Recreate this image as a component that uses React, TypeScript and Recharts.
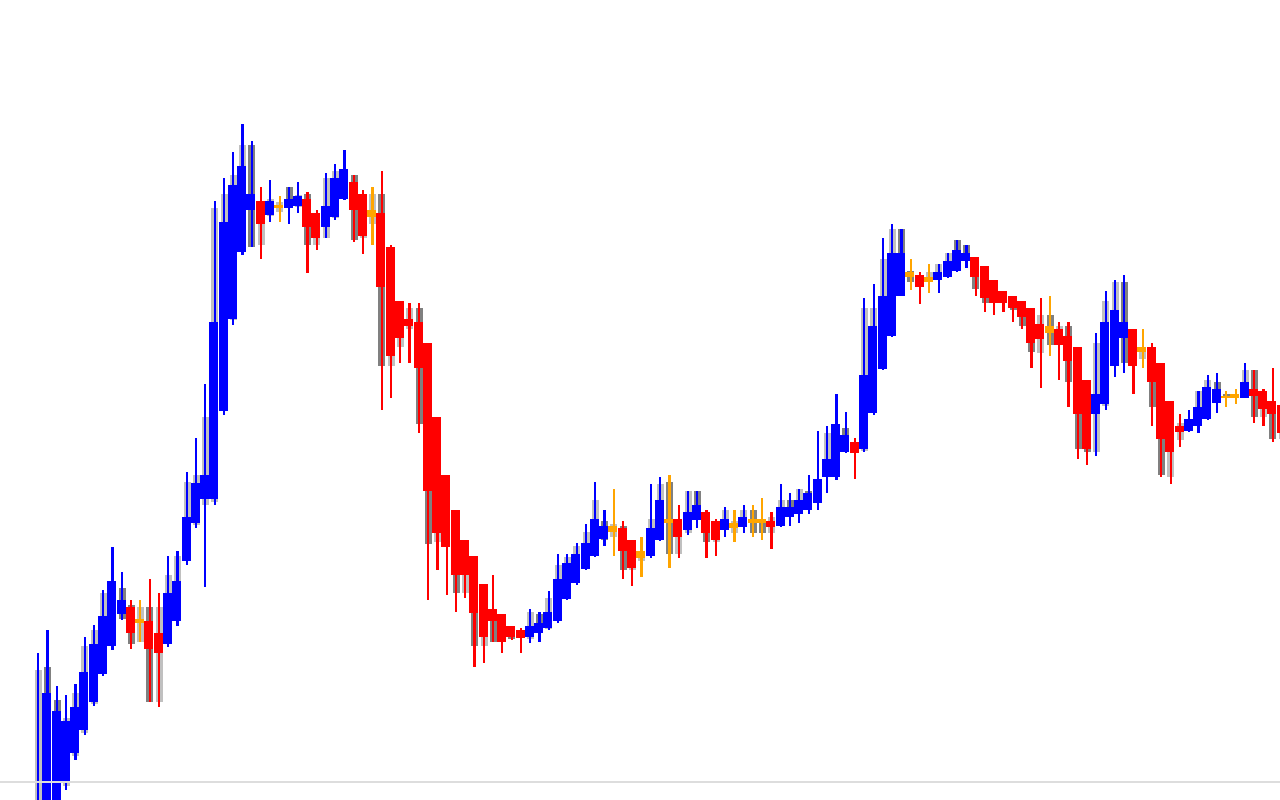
import { BarChart, Bar, XAxis, YAxis, ReferenceLine } from 'recharts';

// OHLC values, one entry per candle
const opens = [
  -50, -20, -15, 17, 47, 70, 98, 126, 154, 186,
  193, 181, 179, 167, 156, 179, 239, 277, 301, 301,
  389, 481, 548, 590, 599, 585, 595, 592, 594, 601,
  587, 573, 583, 601, 618, 606, 590, 587, 553, 499,
  481, 478, 457, 383, 325, 290, 260, 244, 216, 191,
  186, 174, 170, 163, 167, 172, 179, 201, 217, 231,
  244, 261, 274, 272, 260, 249, 244, 260, 281, 281,
  270, 280, 288, 279, 270, 277, 273, 281, 281, 279,
  274, 283, 286, 290, 297, 323, 323, 348, 358, 351,
  387, 431, 464, 504, 528, 525, 523, 520, 523, 529,
  539, 543, 534, 520, 509, 504, 499, 492, 476, 474,
  471, 464, 453, 420, 386, 396, 434, 462, 471, 453,
  453, 437, 399, 374, 369, 374, 381, 397, 404, 406,
  402, 411, 409, 399, 395,
];
const closes = [
  -5, 107, 89, 79, 93, 128, 156, 184, 219, 200,
  167, 177, 151, 147, 207, 219, 283, 317, 325, 478,
  578, 615, 634, 606, 576, 599, 592, 601, 604, 573,
  562, 594, 622, 631, 590, 564, 583, 513, 444, 462,
  474, 432, 309, 267, 253, 225, 225, 187, 163, 179,
  158, 163, 162, 174, 177, 188, 221, 237, 246, 257,
  281, 274, 268, 249, 232, 242, 272, 300, 277, 263,
  288, 295, 267, 260, 281, 272, 283, 277, 277, 273,
  293, 293, 300, 307, 321, 341, 376, 365, 347, 425,
  474, 504, 547, 547, 523, 513, 518, 528, 539, 550,
  547, 523, 502, 497, 497, 492, 483, 457, 461, 467,
  455, 439, 386, 351, 406, 478, 490, 478, 434, 448,
  418, 361, 348, 368, 381, 393, 413, 411, 402, 402,
  418, 404, 391, 386, 367,
];
const highs = [
  147, 170, 114, 105, 116, 163, 175, 210, 253, 228,
  200, 200, 221, 207, 244, 249, 328, 362, 416, 599,
  622, 648, 676, 659, 613, 620, 604, 613, 618, 608,
  590, 627, 636, 650, 625, 610, 613, 629, 555, 499,
  497, 497, 457, 383, 325, 290, 260, 244, 216, 225,
  186, 174, 172, 191, 188, 209, 246, 246, 257, 276,
  318, 290, 311, 279, 260, 263, 316, 323, 325, 295,
  309, 309, 290, 281, 293, 290, 295, 295, 302, 288,
  316, 307, 311, 325, 369, 374, 406, 388, 362, 502,
  516, 562, 576, 571, 541, 528, 536, 536, 547, 560,
  555, 543, 534, 520, 509, 504, 499, 492, 502, 504,
  478, 478, 453, 420, 467, 509, 520, 525, 471, 471,
  457, 437, 399, 386, 390, 409, 425, 427, 409, 411,
  437, 430, 411, 432, 395,
];
const lows = [
  -60, -30, -25, 10, 40, 65, 94, 124, 150, 180,
  151, 158, 98, 93, 153, 174, 235, 272, 213, 295,
  385, 475, 545, 553, 541, 578, 578, 576, 587, 527,
  550, 562, 580, 600, 558, 546, 555, 390, 402, 437,
  437, 367, 200, 230, 205, 188, 202, 133, 137, 158,
  147, 160, 147, 157, 158, 170, 177, 200, 215, 230,
  243, 254, 244, 221, 214, 223, 242, 259, 232, 242,
  265, 272, 242, 244, 263, 258, 267, 263, 260, 251,
  273, 274, 277, 286, 290, 307, 320, 347, 321, 348,
  385, 430, 463, 504, 510, 496, 507, 507, 522, 528,
  532, 504, 488, 485, 488, 478, 471, 432, 412, 444,
  420, 393, 341, 335, 344, 390, 423, 427, 406, 432,
  374, 323, 316, 353, 368, 367, 380, 387, 393, 396,
  402, 377, 374, 358, 360,
];

// grey shadow range drawn behind each candle
const shadowHighs = [
  130, 133, 100, 82, 107, 154, 170, 207, 215, 212,
  195, 193, 193, 193, 225, 244, 318, 325, 383, 592,
  606, 625, 655, 655, 599, 601, 598, 613, 605, 606,
  587, 622, 629, 630, 625, 606, 606, 606, 550, 495,
  492, 492, 457, 380, 322, 288, 258, 240, 214, 190,
  184, 172, 170, 188, 186, 202, 235, 243, 254, 268,
  300, 279, 276, 274, 258, 249, 281, 316, 318, 281,
  309, 309, 288, 279, 290, 279, 290, 290, 281, 283,
  300, 300, 311, 309, 320, 367, 370, 372, 358, 492,
  492, 541, 571, 571, 529, 525, 528, 536, 547, 560,
  555, 543, 534, 520, 509, 504, 499, 492, 485, 485,
  474, 474, 453, 420, 457, 499, 518, 518, 471, 453,
  453, 437, 399, 377, 381, 409, 420, 418, 406, 406,
  430, 430, 409, 399, 395,
];
const shadowLows = [
  -55, -25, -20, 14, 44, 67, 96, 126, 160, 181,
  156, 158, 98, 98, 160, 179, 239, 275, 295, 298,
  390, 480, 550, 553, 555, 584, 588, 592, 593, 555,
  555, 562, 582, 601, 560, 562, 576, 434, 434, 453,
  471, 376, 256, 258, 255, 207, 207, 154, 154, 158,
  158, 161, 162, 161, 167, 171, 179, 201, 217, 231,
  244, 260, 263, 230, 230, 239, 244, 260, 246, 246,
  267, 280, 258, 258, 270, 267, 273, 267, 267, 267,
  274, 283, 286, 290, 297, 323, 323, 348, 347, 349,
  387, 431, 464, 504, 518, 513, 518, 520, 523, 529,
  539, 511, 497, 497, 497, 490, 474, 448, 447, 455,
  455, 418, 351, 348, 348, 394, 434, 437, 434, 441,
  393, 325, 323, 360, 369, 374, 381, 397, 403, 403,
  402, 383, 383, 361, 361,
];

// candles with an (almost) unchanged close, drawn in orange
const flatIdx = [11, 26, 36, 62, 65, 68, 75, 77, 78, 94, 96, 109, 119, 128, 129];
// candles whose shadow is dark grey instead of light grey
const darkShadowIdx = [
  1, 2, 8, 9, 10, 12, 23, 27, 29, 34, 37, 41, 42, 45, 47, 49, 50, 51, 54, 61,
  63, 68, 71, 72, 77, 78, 81, 83, 87, 93, 94, 99, 100, 101, 102, 103, 105, 106,
  107, 109, 111, 112, 113, 117, 120, 121, 127, 128, 131, 133,
];

const data = opens.map((open, i) => ({
  name: String(i + 1),
  open,
  close: closes[i],
  high: highs[i],
  low: lows[i],
  shadowHigh: shadowHighs[i],
  shadowLow: shadowLows[i],
  flat: flatIdx.includes(i),
  darkShadow: darkShadowIdx.includes(i),
}));

const Candle = (props: any) => {
  const { x, y, width, height, payload } = props;
  const { open, close, high, low, shadowHigh, shadowLow, flat, darkShadow } = payload;
  const k = height / (high - low);
  const toY = (v: number) => y + (high - v) * k;
  const color = flat ? '#ffa500' : close > open ? '#0000ff' : '#ff0000';
  const bodyTop = toY(Math.max(open, close));
  const bodyBottom = toY(Math.min(open, close));
  const sTop = toY(shadowHigh);
  const sBottom = toY(shadowLow);
  return (
    <g shapeRendering="crispEdges">
      <rect x={x + 2} y={sTop} width={width - 2} height={Math.max(sBottom - sTop, 0)} fill={darkShadow ? '#808080' : '#c0c0c0'} />
      <rect x={x + width / 2 - 0.3} y={y} width={2.2} height={height} fill={color} />
      <rect x={x} y={bodyTop} width={width} height={Math.max(bodyBottom - bodyTop, 1)} fill={color} />
    </g>
  );
};

export default function App() {
  return (
    <div style={{ position: 'fixed', left: 0, top: 0, width: 1280, height: 800, overflow: 'hidden', background: '#ffffff' }}>
      <BarChart
        width={1286}
        height={900}
        data={data}
        margin={{ top: 0, right: 0, bottom: 0, left: 0 }}
        barCategoryGap={0}
        barGap={0}
      >
        <XAxis dataKey="name" hide padding={{ left: 33, right: 0 }} />
        <YAxis type="number" domain={[-100, 800]} allowDataOverflow hide />
        <ReferenceLine y={18} stroke="#dddddd" strokeWidth={2} />
        <Bar dataKey={(d: any) => [d.low, d.high]} shape={<Candle />} isAnimationActive={false} />
      </BarChart>
    </div>
  );
}
